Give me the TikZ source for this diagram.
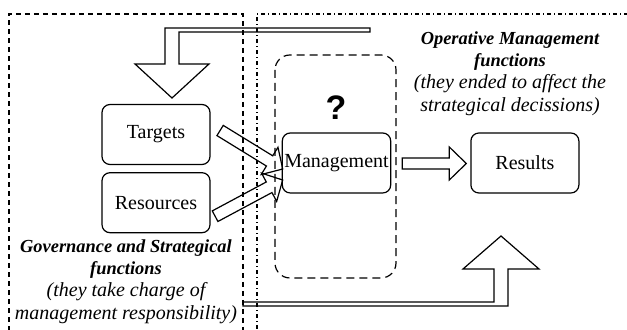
\documentclass[tikz,border=0pt]{standalone}
\usepackage{fontspec}
\IfFontExistsTF{Liberation Serif Italic}{%
  \setmainfont{Liberation Serif}[ItalicFont={Liberation Serif Italic},BoldFont={Liberation Serif Bold},BoldItalicFont={Liberation Serif Bold Italic}]%
}{%
  \setmainfont{Liberation Serif}%
}
\newfontfamily\qmarkfont{Liberation Sans}
\usetikzlibrary{positioning,calc}

% hollow block arrow: tail, tip, shaft half width, head half width, head length
\newcommand\blockarrow[5]{%
    \coordinate (ba-base) at ($(#2)!#5!(#1)$);
    \draw[blockline] ($(#1)!#3!90:(#2)$) -- ($(ba-base)!#3!90:(#2)$) -- ($(ba-base)!#4!90:(#2)$)
        -- (#2) -- ($(ba-base)!#4!-90:(#2)$) -- ($(ba-base)!#3!-90:(#2)$) -- ($(#1)!#3!-90:(#2)$) -- cycle;
}
\newcommand\notehead[1]{{\fontsize{9.2}{11.2}\selectfont\bfseries #1}}

\begin{document}
\begin{tikzpicture}[
    x=0.5pt, y=-0.5pt,
    node distance = 3.5pt,
    font={\fontsize{10}{11}\selectfont},
    base/.style={draw,line width=0.6pt,rounded corners=4pt,minimum width=54pt,minimum height=30pt,inner sep=1pt,align=center},
    note/.style={font={\fontsize{10}{11.2}\selectfont\itshape},align=center,inner sep=0pt},
    blockline/.style={draw,line width=0.6pt,line join=miter},
    govframe/.style={line width=0.6pt,dash pattern=on 2.5pt off 2pt},
    opframe/.style={line width=0.6pt,dash pattern=on 2pt off 1.5pt on 0.5pt off 1.5pt},
    mgmtframe/.style={line width=0.6pt,dash pattern=on 4pt off 2.5pt,rounded corners=7.5pt},
]
    \useasboundingbox (0,0) rectangle (627,330);
    \clip (0,0) rectangle (627,330);

    % frames
    \draw[govframe] (9,340) -- (9,14) -- (243,14) -- (243,340);
    \draw[opframe]  (257,340) -- (257,14) -- (640,14);
    \draw[mgmtframe] (275,55) rectangle (396,278);

    % boxes
    \node[base] (targets)   at (156,134.5) {Targets};
    \node[base,below=of targets] (resources) {Resources};
    \node[base] (management) at (336.5,163) {Management};
    \node[base,right=39.5pt of management] (results) {Results};

    \node[font={\qmarkfont\bfseries\fontsize{17}{17}\selectfont}] (qmark) at (336,108) {?};

    % notes
    \node[note] (opnote) at (510,73.5) {\notehead{Operative Management}\\\notehead{functions}\\(they ended to affect the\\strategical decissions)};
    \node[note] (govnote) at (126,281.5) {\notehead{Governance and Strategical}\\\notehead{functions}\\(they take charge of\\management responsibility)};

    % arrows between boxes
    \coordinate (tgtail) at ($(targets.east)+(9.5,-4)$);
    \coordinate (tgtip)  at ($(management.west)+(1,6)$);
    \blockarrow{tgtail}{tgtip}{3pt}{8pt}{7.7pt}
    \coordinate (rstail) at ($(resources.east)+(4.5,13.5)$);
    \coordinate (rstip)  at ($(management.west)+(1,17)$);
    \blockarrow{rstail}{rstip}{3pt}{8pt}{7.7pt}
    \coordinate (mgtail) at ($(management.east)+(11,0.5)$);
    \coordinate (mgtip)  at ($(results.west)+(-4,0.5)$);
    \blockarrow{mgtail}{mgtip}{2.75pt}{8.25pt}{8.5pt}

    % feedback arrows
    \draw[blockline] (370,28) -- (165,28) -- (165,64) -- (135,64) -- (172,98) -- (209,64)
        -- (179,64) -- (179,32) -- (370,32) -- cycle;
    \draw[blockline] (243,302) -- (494,302) -- (494,269) -- (463,269) -- (501,236) -- (539,269)
        -- (508,269) -- (508,306) -- (243,306) -- cycle;
\end{tikzpicture}
\end{document}
